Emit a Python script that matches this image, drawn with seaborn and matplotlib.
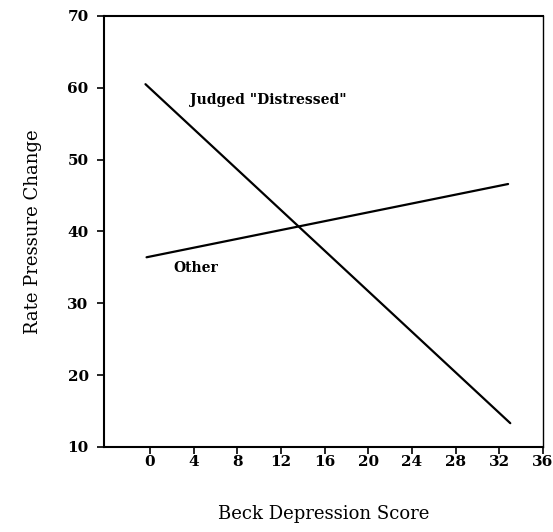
import matplotlib
matplotlib.use("Agg")
import matplotlib.pyplot as plt
import seaborn as sns
import pandas as pd

# Data
beck_distressed = [-0.4, 33.0]
rpc_distressed = [60.5, 13.3]
beck_other = [-0.3, 32.8]
rpc_other = [36.4, 46.6]
x_ticks = [0, 4, 8, 12, 16, 20, 24, 28, 32, 36]
y_ticks = [10, 20, 30, 40, 50, 60, 70]

df = pd.DataFrame({
    "Beck": beck_distressed + beck_other,
    "RPC": rpc_distressed + rpc_other,
    "group": ['Judged "Distressed"'] * 2 + ["Other"] * 2,
})

sns.set_style("ticks")
plt.rcParams["font.family"] = ["DejaVu Serif"]
plt.rcParams["text.color"] = "black"
plt.rcParams["axes.labelcolor"] = "black"
plt.rcParams["xtick.color"] = "black"
plt.rcParams["ytick.color"] = "black"
plt.rcParams["axes.edgecolor"] = "black"

fig = plt.figure(figsize=(5.53, 5.32), dpi=100)
ax = fig.add_axes([0.188, 0.160, 0.794, 0.810])
sns.lineplot(data=df, x="Beck", y="RPC", hue="group",
             palette={'Judged "Distressed"': "black", "Other": "black"},
             linewidth=1.6, legend=False, ax=ax)

ax.set_xlim(-4.2, 36)
ax.set_ylim(10, 70)
ax.set_xticks(x_ticks)
ax.set_yticks(y_ticks)
ax.tick_params(axis="both", direction="out", length=5, width=1.2, labelsize=11,
               colors="black")
ax.tick_params(axis="y", pad=6)
ax.tick_params(axis="x", pad=1)
for lab in ax.get_xticklabels() + ax.get_yticklabels():
    lab.set_fontweight("bold")
for s in ["left", "bottom", "top"]:
    ax.spines[s].set_linewidth(1.5)
ax.spines["right"].set_linewidth(1.0)

ax.set_xlabel("Beck Depression Score", fontsize=13, labelpad=26, color="black")
ax.set_ylabel("Rate Pressure Change", fontsize=13, labelpad=18, color="black")

ax.text(3.7, 58.3, 'Judged "Distressed"', fontsize=10, fontweight="bold",
        va="center", ha="left", color="black")
ax.text(2.2, 34.9, "Other", fontsize=10, fontweight="bold",
        va="center", ha="left", color="black")

fig.savefig("out.png", dpi=100)
